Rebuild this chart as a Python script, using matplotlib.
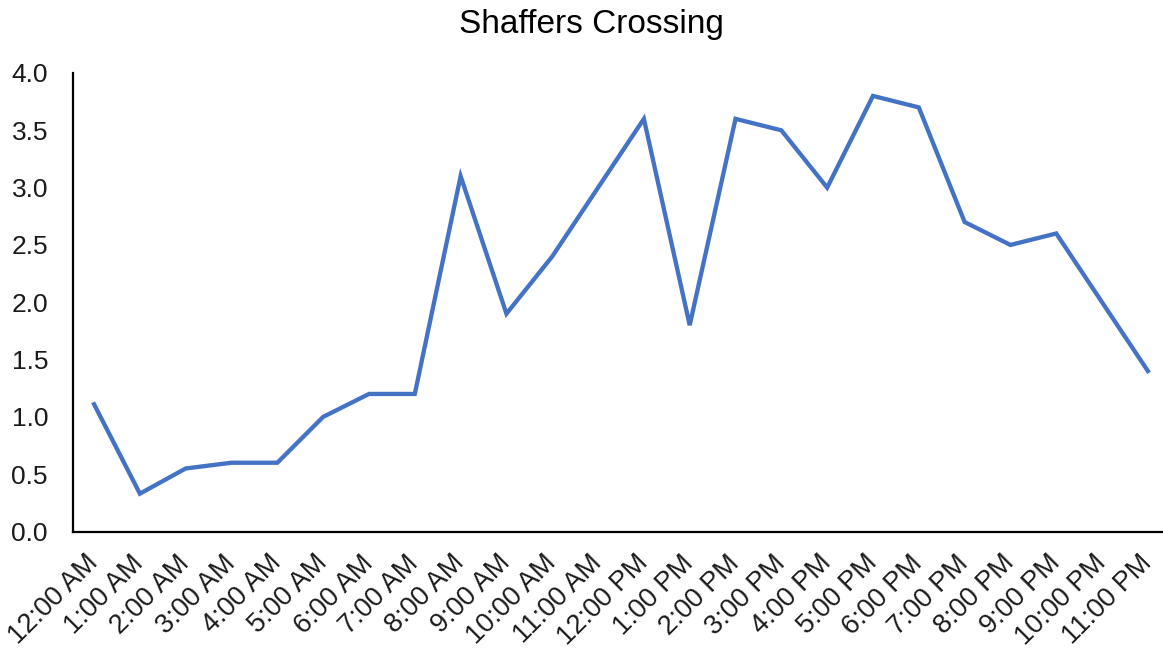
import matplotlib
matplotlib.use("Agg")
import matplotlib.pyplot as plt

# hourly values
hours = ["12:00 AM", "1:00 AM", "2:00 AM", "3:00 AM", "4:00 AM", "5:00 AM",
         "6:00 AM", "7:00 AM", "8:00 AM", "9:00 AM", "10:00 AM", "11:00 AM",
         "12:00 PM", "1:00 PM", "2:00 PM", "3:00 PM", "4:00 PM", "5:00 PM",
         "6:00 PM", "7:00 PM", "8:00 PM", "9:00 PM", "10:00 PM", "11:00 PM"]
values = [1.11, 0.33, 0.55, 0.6, 0.6, 1.0, 1.2, 1.2, 3.1, 1.9, 2.4, 3.0,
          3.6, 1.8, 3.6, 3.5, 3.0, 3.8, 3.7, 2.7, 2.5, 2.6, 2.0, 1.4]
y_ticks = [0.0, 0.5, 1.0, 1.5, 2.0, 2.5, 3.0, 3.5, 4.0]

plt.rcParams["font.family"] = ["Liberation Sans", "DejaVu Sans"]

W, H = 1163, 649
fig = plt.figure(figsize=(W / 100, H / 100), dpi=100)
ax = fig.add_axes([73 / W, 1 - 531.5 / H, (W - 73) / W, (531.5 - 73) / H])

x = list(range(len(hours)))
ax.plot(x, values, color="#4472C4", linewidth=3.1, solid_joinstyle="miter")

ax.set_xlim(-0.46, 23.33)
ax.set_ylim(0, 4.0)
ax.set_yticks(y_ticks)
ax.set_yticklabels([f"{v:.1f}" for v in y_ticks], fontsize=19, color="#1a1a1a")
ax.set_xticks(x)
ax.set_xticklabels(hours, fontsize=19.5, rotation=45, ha="right", va="center",
                   rotation_mode="anchor", color="#1a1a1a")
ax.tick_params(axis="both", length=0)
ax.tick_params(axis="y", pad=18)
ax.tick_params(axis="x", pad=20)

for side in ("top", "right"):
    ax.spines[side].set_visible(False)
for side in ("left", "bottom"):
    ax.spines[side].set_linewidth(1.6)
    ax.spines[side].set_color("black")

fig.text(591 / W, 1 - 25 / H, "Shaffers Crossing", ha="center", va="center",
         fontsize=24, color="black")

fig.savefig("out.png", dpi=100)
